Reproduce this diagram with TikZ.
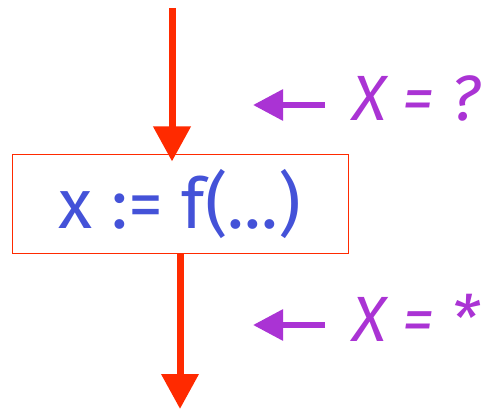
\documentclass[tikz,border=0pt]{standalone}
\usepackage{fontspec}
\setmainfont{Fira Sans}
\usetikzlibrary{arrows.meta,positioning}
\definecolor{flowred}{HTML}{FF2A00}
\definecolor{stmtblue}{HTML}{4452D8}
\definecolor{factpurple}{HTML}{AA33D4}
\tikzset{
  stmt/.style={draw=flowred, line width=1pt, minimum width=336pt,
    minimum height=98pt, inner sep=0pt, font=\fontsize{70}{80}\selectfont,
    text=stmtblue},
  flow/.style={-{Triangle[length=35pt, width=36pt]}, line width=7pt, color=flowred},
  fact/.style={-{Triangle[length=30pt, width=30pt]}, line width=6pt, color=factpurple},
  factlabel/.style={anchor=west, inner sep=0pt, font=\fontsize{64}{72}\selectfont\itshape,
    text=factpurple},
}
\begin{document}
\begin{tikzpicture}[x=1pt, y=-1pt]
  \useasboundingbox (0,0) rectangle (485,409);
  % the statement
  \node[stmt] (assign) at (180,204) {x := f(...)};
  % control flow in and out
  \coordinate (in) at (172,8);
  \coordinate (out) at (180,409);
  \draw[flow] (in) -- ([yshift=-7pt]assign.north -| in);
  \draw[flow] (assign.south) -- (out);
  % facts before and after
  \node[factlabel] (before) at (352,98) {X = ?};
  \node[factlabel] (after) at (352,318) {X = *};
  \coordinate (beforetail) at (325,105);
  \coordinate (beforetip) at (253,105);
  \coordinate (aftertail) at (325,325);
  \coordinate (aftertip) at (253,325);
  \draw[fact] (beforetail) -- (beforetip);
  \draw[fact] (aftertail) -- (aftertip);
\end{tikzpicture}
\end{document}
